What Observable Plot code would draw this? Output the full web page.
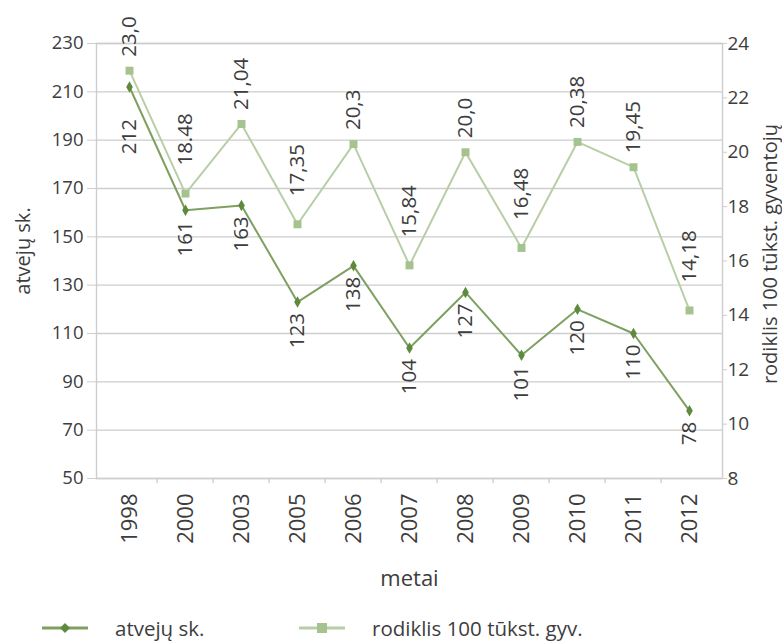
<!DOCTYPE html>
<html>
<head>
<meta charset="utf-8">
<script src="https://cdn.jsdelivr.net/npm/d3@7"></script>
<script src="https://cdn.jsdelivr.net/npm/@observablehq/plot@0.6"></script>
<style>
  body { margin: 0; background: #fff; }
  #chart { position: relative; width: 782px; height: 641px; font-family: "Open Sans", "Noto Sans", sans-serif; color: #3d3d3d; }
  #chart svg { display: block; }
  .legend { position: absolute; left: 0; top: 613px; height: 30px; width: 782px; font-size: 20.5px; }
  .legend .item { position: absolute; top: 0; display: flex; align-items: center; height: 30px; }
  .legend svg { margin-right: 26px; }
</style>
</head>
<body>
<div id="chart"></div>
<script>
// Years on the horizontal axis
const years = ["1998", "2000", "2003", "2005", "2006", "2007", "2008", "2009", "2010", "2011", "2012"];
// Number of cases (left axis)
const atvejuSk = [212, 161, 163, 123, 138, 104, 127, 101, 120, 110, 78];
// Rate per 100 thousand population (right axis)
const rodiklis = [23.0, 18.48, 21.04, 17.35, 20.3, 15.84, 20.0, 16.48, 20.38, 19.45, 14.18];
const rodiklisLabels = ["23,0", "18.48", "21,04", "17,35", "20,3", "15,84", "20,0", "16,48", "20,38", "19,45", "14,18"];
// Axis ticks
const leftTicks = [50, 70, 90, 110, 130, 150, 170, 190, 210, 230];
const rightTicks = [8, 10, 12, 14, 16, 18, 20, 22, 24];

const leftDomain = [50, 230];
const rightDomain = [8, 24];
// Map a right-axis value onto the left-axis scale and back
const toLeft = r => leftDomain[0] + (r - rightDomain[0]) * (leftDomain[1] - leftDomain[0]) / (rightDomain[1] - rightDomain[0]);
const fromLeft = v => rightDomain[0] + (v - leftDomain[0]) * (rightDomain[1] - rightDomain[0]) / (leftDomain[1] - leftDomain[0]);

const casesData = years.map((year, i) => ({year, value: atvejuSk[i], first: i === 0}));
const rateData = years.map((year, i) => {
  const v = rodiklis[i];
  const prev = i > 0 ? rodiklis[i - 1] : Infinity;
  const next = i < years.length - 1 ? rodiklis[i + 1] : Infinity;
  return {year, value: v, y: toLeft(v), label: rodiklisLabels[i], trough: v < prev && v < next};
});

const W = 782, H = 600;
const mLeft = 96, mRight = 60, mTop = 43, mBottom = 122;
const band = (W - mLeft - mRight) / years.length;
const frameCenterX = (mLeft + W - mRight) / 2;

const darkLine = "#7fa061", darkDot = "#5d8a3c";
const lightLine = "#b8cea6", lightDot = "#a6c38f";
const gridColor = "#cdcdcd";
const textColor = "#3d3d3d";
const font = '"Open Sans", "Noto Sans", sans-serif';
const labelSize = 20.5;

// Width of a string in the chart font, used to center rotated titles
const ctx = document.createElement("canvas").getContext("2d");
function textWidth(str, size) {
  ctx.font = `${size}px ${font}`;
  return ctx.measureText(str).width;
}
const leftTitle = "atvejų sk.";
const rightTitle = "rodiklis 100 tūkst. gyventojų";
const titleSize = 20;

const chart = Plot.plot({
  width: W,
  height: H,
  marginLeft: mLeft,
  marginRight: mRight,
  marginTop: mTop,
  marginBottom: mBottom,
  style: {fontFamily: font, fontSize: "20px", color: textColor, background: "#fff"},
  x: {type: "band", domain: years, padding: 0, axis: null},
  y: {domain: leftDomain, axis: null},
  marks: [
    Plot.gridY(leftTicks, {stroke: gridColor, strokeOpacity: 1, strokeWidth: 1.4}),
    Plot.frame({stroke: gridColor, strokeWidth: 1.4}),
    // small ticks between the year bands
    Plot.ruleX(years.slice(1), {dx: -band / 2, y1: leftDomain[0], y2: leftDomain[0], insetBottom: -5, stroke: gridColor, strokeWidth: 1.4}),
    Plot.axisY(leftTicks, {anchor: "left", tickSize: 9, tickPadding: 4, stroke: gridColor, fill: textColor, fontSize: 18.5, letterSpacing: -1, label: null}),
    Plot.axisY(rightTicks.map(toLeft), {anchor: "right", tickSize: 4, tickPadding: 1, stroke: gridColor, fill: textColor, fontSize: 19, letterSpacing: -0.6, label: null,
      tickFormat: v => String(Math.round(fromLeft(v)))}),
    Plot.axisX(years, {anchor: "bottom", tickSize: 0, tickPadding: 15, tickRotate: -90, fill: textColor, fontSize: 22, label: null}),
    // axis titles (start-anchored, shifted by half their length to center them)
    Plot.text([leftTitle], {frameAnchor: "middle", dx: mLeft - 73 - frameCenterX, dy: -10 + textWidth(leftTitle, titleSize) / 2, rotate: -90, textAnchor: "start", lineAnchor: "middle", fill: textColor, fontSize: titleSize}),
    Plot.text([rightTitle], {frameAnchor: "middle", dx: W - mRight + 48 - frameCenterX, dy: -7 + textWidth(rightTitle, titleSize) / 2, rotate: -90, textAnchor: "start", lineAnchor: "middle", fill: textColor, fontSize: titleSize}),
    Plot.text(["metai"], {frameAnchor: "bottom", dy: 100, textAnchor: "middle", lineAnchor: "middle", fill: textColor, fontSize: 22}),
    // rate per 100 thousand
    Plot.line(rateData, {x: "year", y: "y", stroke: lightLine, strokeWidth: 2}),
    Plot.dot(rateData, {x: "year", y: "y", symbol: "square", r: 4.5, fill: lightDot}),
    // number of cases
    Plot.line(casesData, {x: "year", y: "value", stroke: darkLine, strokeWidth: 2}),
    Plot.dot(casesData, {x: "year", y: "value", symbol: "diamond", r: 3.5, fill: darkDot}),
    // value labels
    Plot.text(rateData.filter(d => !d.trough), {x: "year", y: "y", text: "label", rotate: -90, textAnchor: "start", dy: -14, fill: textColor, fontSize: labelSize}),
    Plot.text(rateData.filter(d => d.trough), {x: "year", y: "y", text: "label", rotate: -90, textAnchor: "start", dy: -28, fill: textColor, fontSize: labelSize}),
    Plot.text(casesData.filter(d => d.first), {x: "year", y: "value", text: d => String(d.value), rotate: -90, textAnchor: "end", dy: 32, fill: textColor, fontSize: labelSize}),
    Plot.text(casesData.filter(d => !d.first), {x: "year", y: "value", text: d => String(d.value), rotate: -90, textAnchor: "end", dy: 11, fill: textColor, fontSize: labelSize})
  ]
});

const root = document.getElementById("chart");
root.appendChild(chart);

// Legend below the chart
const legend = document.createElement("div");
legend.className = "legend";
function swatch(color, dotColor, symbol) {
  const s = d3.create("svg").attr("width", 48).attr("height", 14);
  s.append("line").attr("x1", 1).attr("x2", 47).attr("y1", 7).attr("y2", 7).attr("stroke", color).attr("stroke-width", 3);
  if (symbol === "square") s.append("rect").attr("x", 19).attr("y", 2).attr("width", 10).attr("height", 10).attr("fill", dotColor);
  else s.append("path").attr("d", "M24,2L29,7L24,12L19,7Z").attr("fill", dotColor);
  return s.node();
}
[["atvejų sk.", darkLine, darkDot, "diamond", 41], ["rodiklis 100 tūkst. gyv.", lightLine, lightDot, "square", 298]].forEach(([name, c, dc, sym, left]) => {
  const item = document.createElement("div");
  item.className = "item";
  item.style.left = left + "px";
  item.appendChild(swatch(c, dc, sym));
  const t = document.createElement("span");
  t.textContent = name;
  item.appendChild(t);
  legend.appendChild(item);
});
root.appendChild(legend);
</script>
</body>
</html>
